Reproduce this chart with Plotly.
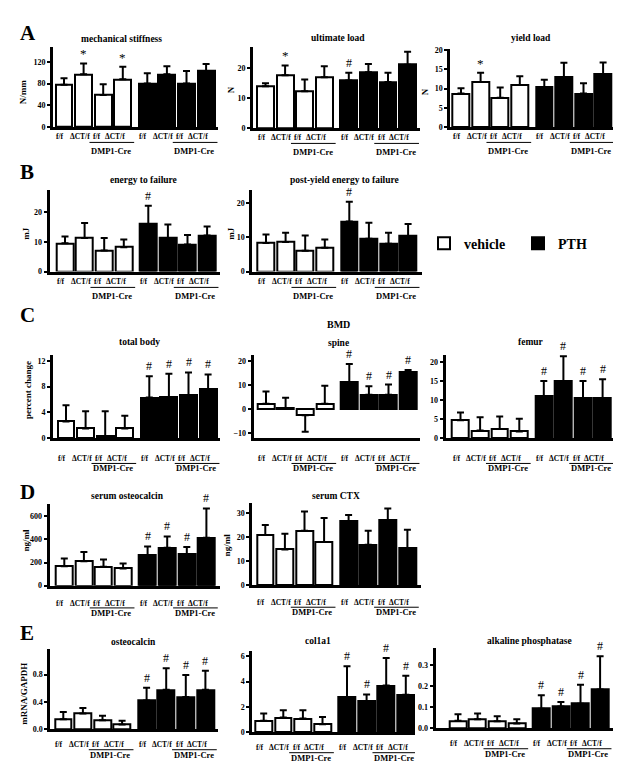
import plotly.graph_objects as go

W, H = 621, 768

# ---------------- data ----------------
group_labels = ["f/f", "ΔCT/f", "f/f", "ΔCT/f"]

stiff_veh = [78, 97, 59, 88];        stiff_veh_sd = [12, 20, 20, 23]
stiff_pth = [80, 97, 80, 103];       stiff_pth_sd = [19, 15, 23, 13]
stiff_sig_veh = ["", "*", "", "*"];  stiff_sig_pth = ["", "", "", ""]

ult_veh = [13.9, 17.5, 12.2, 16.9];  ult_veh_sd = [1.0, 3.3, 3.9, 3.6]
ult_pth = [15.8, 18.5, 15.3, 21.0];  ult_pth_sd = [2.6, 2.8, 3.1, 4.3]
ult_sig_veh = ["", "*", "", ""];     ult_sig_pth = ["#", "", "", ""]

yld_veh = [8.7, 11.7, 7.6, 10.9];    yld_veh_sd = [1.4, 2.4, 2.7, 2.3]
yld_pth = [10.4, 13.0, 8.7, 13.7];   yld_pth_sd = [1.9, 3.7, 2.7, 3.1]
yld_sig_veh = ["", "*", "", ""];     yld_sig_pth = ["", "", "", ""]

en_veh = [9.5, 11.3, 7.1, 8.2];      en_veh_sd = [2.3, 5.0, 4.2, 2.6]
en_pth = [16.0, 11.2, 9.1, 12.1];    en_pth_sd = [6.1, 4.6, 3.2, 3.1]
en_sig_veh = ["", "", "", ""];       en_sig_pth = ["#", "", "", ""]

pye_veh = [8.4, 8.7, 6.1, 7.0];      pye_veh_sd = [2.5, 2.7, 4.5, 2.4]
pye_pth = [14.7, 9.6, 8.2, 10.4];    pye_pth_sd = [5.8, 4.7, 3.2, 3.6]
pye_sig_veh = ["", "", "", ""];      pye_sig_pth = ["#", "", "", ""]

tb_veh = [2.6, 1.5, 0.3, 1.5];       tb_veh_sd = [2.5, 2.7, 3.9, 2.0]
tb_pth = [6.3, 6.4, 6.7, 7.6];       tb_pth_sd = [3.3, 3.6, 3.5, 2.3]
tb_sig_veh = ["", "", "", ""];       tb_sig_pth = ["#", "#", "#", "#"]

sp_veh = [2.3, 0.3, -2.5, 2.3];      sp_veh_sd = [5.1, 4.5, 6.9, 7.5]
sp_pth = [11.3, 6.0, 6.0, 15.4];     sp_pth_sd = [7.6, 3.6, 4.3, 1.0]
sp_sig_veh = ["", "", "", ""];       sp_sig_pth = ["#", "#", "#", "#"]

fe_veh = [4.75, 2.0, 2.4, 1.75];     fe_veh_sd = [2.0, 3.5, 3.3, 3.4]
fe_pth = [11.1, 15.1, 10.5, 10.5];   fe_pth_sd = [4.0, 6.5, 4.6, 5.0]
fe_sig_veh = ["", "", "", ""];       fe_sig_pth = ["#", "#", "#", "#"]

ocs_veh = [169, 212, 163, 149];      ocs_veh_sd = [66, 80, 63, 43]
ocs_pth = [263, 329, 269, 415];      ocs_pth_sd = [77, 97, 65, 254]
ocs_sig_veh = ["", "", "", ""];      ocs_sig_pth = ["#", "#", "#", "#"]

ctx_veh = [20.9, 14.8, 22.7, 17.9];  ctx_veh_sd = [4.2, 6.6, 8.0, 10.1]
ctx_pth = [26.6, 16.8, 27.1, 15.2];  ctx_pth_sd = [2.6, 5.9, 4.8, 7.9]
ctx_sig_veh = ["", "", "", ""];      ctx_sig_pth = ["", "", "", ""]

ocm_veh = [0.149, 0.231, 0.135, 0.072]; ocm_veh_sd = [0.107, 0.082, 0.063, 0.054]
ocm_pth = [0.424, 0.578, 0.472, 0.578]; ocm_pth_sd = [0.183, 0.314, 0.323, 0.279]
ocm_sig_veh = ["", "", "", ""];         ocm_sig_pth = ["#", "#", "#", "#"]

col_veh = [0.91, 1.17, 1.09, 0.65];  col_veh_sd = [0.57, 0.57, 0.65, 0.57]
col_pth = [2.78, 2.47, 3.68, 2.96];  col_pth_sd = [2.41, 0.51, 2.16, 1.5]
col_sig_veh = ["", "", "", ""];      col_sig_pth = ["#", "#", "#", "#"]

alp_veh = [0.036, 0.043, 0.034, 0.023]; alp_veh_sd = [0.031, 0.027, 0.023, 0.020]
alp_pth = [0.093, 0.104, 0.117, 0.184]; alp_pth_sd = [0.063, 0.021, 0.089, 0.156]
alp_sig_veh = ["", "", "", ""];         alp_sig_pth = ["#", "#", "#", "#"]

# ---------------- layout config ----------------
SERIF = "Liberation Serif"
S = 19.6  # px per category unit
POS_VEH = [0, 1, 2, 3]
POS_PTH = [4.25, 5.25, 6.25, 7.25]
LABEL_SHIFT = [-0.2, -0.2, -0.32, -0.42]

ROW_OFF = {"A": (10, 15.5, 24.5), "B": (10, 16, 24.5), "C": (20.5, 25.5, 30),
           "D": (17.6, 22.5, 27.6), "E": (15, 20.5, 25.5)}

panels = [
    dict(row="A", title="mechanical stiffness", tpos=(113, 28), ytitle="N/mm", ypos=(15, 82),
         box=(45, 56, 210, 36, 117.3), yr=[0, 148], ticks=[0, 40, 80, 120], fmt="",
         d=(stiff_veh, stiff_veh_sd, stiff_pth, stiff_pth_sd, stiff_sig_veh, stiff_sig_pth)),
    dict(row="A", title="ultimate load", tpos=(330, 27), ytitle="N", ypos=(223, 80),
         box=(245, 257.5, 412, 36.7, 118.3), yr=[0, 26.8], ticks=[0, 10, 20], fmt="",
         d=(ult_veh, ult_veh_sd, ult_pth, ult_pth_sd, ult_sig_veh, ult_sig_pth)),
    dict(row="A", title="yield load", tpos=(523, 27), ytitle="N", ypos=(417, 82),
         box=(442.3, 453, 609, 38.3, 117.3), yr=[0, 20.3], ticks=[0, 5, 10, 15, 20], fmt="",
         d=(yld_veh, yld_veh_sd, yld_pth, yld_pth_sd, yld_sig_veh, yld_sig_pth)),
    dict(row="B", title="energy to failure", tpos=(135, 171), ytitle="mJ", ypos=(18, 225),
         box=(41.7, 57, 212, 180.7, 263.3), yr=[0, 27.5], ticks=[0, 10, 20], fmt="",
         d=(en_veh, en_veh_sd, en_pth, en_pth_sd, en_sig_veh, en_sig_pth)),
    dict(row="B", title="post-yield energy to failure", tpos=(336, 171), ytitle="mJ", ypos=(223, 225),
         box=(244.3, 258, 414, 180.7, 263.3), yr=[0, 24], ticks=[0, 10, 20], fmt="",
         d=(pye_veh, pye_veh_sd, pye_pth, pye_pth_sd, pye_sig_veh, pye_sig_pth)),
    dict(row="C", title="total body", tpos=(131, 334.5), ytitle="percent change", ypos=(20, 383),
         box=(45, 58, 212, 347.7, 431.7), yr=[0, 12.9], ticks=[0, 4, 8, 12], fmt="",
         d=(tb_veh, tb_veh_sd, tb_pth, tb_pth_sd, tb_sig_veh, tb_sig_pth)),
    dict(row="C", title="spine", tpos=(330, 335), ytitle="", ypos=None,
         box=(245.7, 258, 412, 347.7, 431.7), yr=[-12.1, 22.6], ticks=[-10, 0, 10, 20], fmt="",
         d=(sp_veh, sp_veh_sd, sp_pth, sp_pth_sd, sp_sig_veh, sp_sig_pth)),
    dict(row="C", title="femur", tpos=(523, 334.5), ytitle="", ypos=None,
         box=(437.7, 452.5, 608, 347.7, 431.7), yr=[0, 21.9], ticks=[0, 5, 10, 15, 20], fmt="",
         d=(fe_veh, fe_veh_sd, fe_pth, fe_pth_sd, fe_sig_veh, fe_sig_pth)),
    dict(row="D", title="serum osteocalcin", tpos=(119, 490), ytitle="ng/ml", ypos=(18, 535),
         box=(41.7, 56.3, 212, 498.3, 580.7), yr=[0, 706], ticks=[0, 200, 400, 600], fmt="",
         d=(ocs_veh, ocs_veh_sd, ocs_pth, ocs_pth_sd, ocs_sig_veh, ocs_sig_pth)),
    dict(row="D", title="serum CTX", tpos=(328, 490), ytitle="ng/ml", ypos=(219, 540),
         box=(244.3, 257.3, 413, 497.3, 580), yr=[0, 34.2], ticks=[0, 10, 20, 30], fmt="",
         d=(ctx_veh, ctx_veh_sd, ctx_pth, ctx_pth_sd, ctx_sig_veh, ctx_sig_pth)),
    dict(row="E", title="osteocalcin", tpos=(125, 637.7), ytitle="mRNA/GAPDH", ypos=(16, 690),
         box=(42.3, 55.3, 210, 645, 726), yr=[0, 1.17], ticks=[0, 0.4, 0.8], fmt=".1f",
         d=(ocm_veh, ocm_veh_sd, ocm_pth, ocm_pth_sd, ocm_sig_veh, ocm_sig_pth)),
    dict(row="E", title="col1a1", tpos=(310, 636.7), ytitle="", ypos=None,
         box=(244.3, 255.7, 407, 646.7, 729), yr=[0, 6.4], ticks=[0, 2, 4, 6], fmt="",
         d=(col_veh, col_veh_sd, col_pth, col_pth_sd, col_sig_veh, col_sig_pth)),
    dict(row="E", title="alkaline phosphatase", tpos=(521, 636.7), ytitle="", ypos=None,
         box=(427.7, 450, 607, 644, 725), yr=[0, 0.378], ticks=[0, 0.1, 0.2, 0.3], fmt=".1f",
         d=(alp_veh, alp_veh_sd, alp_pth, alp_pth_sd, alp_sig_veh, alp_sig_pth)),
]

letters = [("A", 20, 22), ("B", 19, 163), ("C", 19, 307), ("D", 19, 486), ("E", 19, 629)]


def px(xp):
    return xp / W


def py(yp):
    return 1 - yp / H


def err_arrays(vals, sds):
    up = [s if v >= 0 else 0 for v, s in zip(vals, sds)]
    dn = [0 if v >= 0 else s for v, s in zip(vals, sds)]
    return up, dn


fig = go.Figure()
annotations = []
shapes = []
layout = {}

for i, p in enumerate(panels):
    n = "" if i == 0 else str(i + 1)
    xa, ya = "x" + n, "y" + n
    left, first, right, top, bottom = p["box"]
    veh, veh_sd, pth, pth_sd, sig_v, sig_p = p["d"]

    for vals, sds, pos, fill, name in [(veh, veh_sd, POS_VEH, "white", "vehicle"),
                                       (pth, pth_sd, POS_PTH, "black", "PTH")]:
        up, dn = err_arrays(vals, sds)
        fig.add_trace(go.Bar(
            x=pos, y=vals, width=0.86, name=name, legendgroup=name,
            showlegend=(i == 0), xaxis=xa, yaxis=ya,
            marker=dict(color=fill, line=dict(color="black", width=2)),
            error_y=dict(type="data", array=up, arrayminus=dn, symmetric=False,
                         color="black", thickness=2, width=3.5),
            hoverinfo="skip"))

    layout["xaxis" + n] = dict(
        domain=[px(left), px(right)],
        range=[-(first - left) / S, (right - first) / S],
        anchor=ya, showline=True, linewidth=3, linecolor="black",
        showticklabels=False, ticks="", showgrid=False, zeroline=False, fixedrange=True)
    layout["yaxis" + n] = dict(
        domain=[py(bottom), py(top)], range=p["yr"], anchor=xa,
        showline=True, linewidth=3, linecolor="black",
        ticks="outside", ticklen=3, tickwidth=2, tickcolor="black",
        tickvals=p["ticks"], tickformat=p["fmt"],
        tickfont=dict(family=SERIF, size=8, color="black", weight="bold"),
        showgrid=False, zeroline=False, fixedrange=True)

    # title
    annotations.append(dict(text=p["title"], x=px(p["tpos"][0]), y=py(p["tpos"][1]),
                            xref="paper", yref="paper", showarrow=False,
                            xanchor="center", yanchor="middle",
                            font=dict(family=SERIF, size=9.5, color="black", weight="bold")))
    if p["ytitle"]:
        annotations.append(dict(text=p["ytitle"], x=px(p["ypos"][0]), y=py(p["ypos"][1]),
                                xref="paper", yref="paper", showarrow=False, textangle=-90,
                                xanchor="center", yanchor="middle",
                                font=dict(family=SERIF, size=9, color="black", weight="bold")))

    # category labels
    lab_dy, line_dy, dmp_dy = ROW_OFF[p["row"]]
    for pos in (POS_VEH, POS_PTH):
        for k, (xv, lab) in enumerate(zip(pos, group_labels)):
            annotations.append(dict(text=lab, x=xv + LABEL_SHIFT[k], y=py(bottom + lab_dy),
                                    xref=xa, yref="paper", showarrow=False,
                                    xanchor="center", yanchor="middle",
                                    font=dict(family=SERIF, size=7.5, color="black", weight="bold")))
        annotations.append(dict(text="DMP1-Cre", x=(pos[2] + pos[3]) / 2 - 0.1,
                                y=py(bottom + dmp_dy), xref=xa, yref="paper", showarrow=False,
                                xanchor="center", yanchor="middle",
                                font=dict(family=SERIF, size=8.5, color="black", weight="bold")))
        shapes.append(dict(type="line", xref=xa, yref="paper",
                           x0=pos[2] - 0.7, x1=pos[3] + 0.58,
                           y0=py(bottom + line_dy), y1=py(bottom + line_dy),
                           line=dict(color="black", width=1)))

    # significance marks
    for vals, sds, pos, sig in [(veh, veh_sd, POS_VEH, sig_v), (pth, pth_sd, POS_PTH, sig_p)]:
        for xv, v, s, mk in zip(pos, vals, sds, sig):
            if mk:
                annotations.append(dict(text=mk, x=xv, y=v + s, xref=xa, yref=ya,
                                        showarrow=False, xanchor="center", yanchor="bottom",
                                        yshift=0 if mk == "*" else 1,
                                        font=dict(family=SERIF, size=13 if mk == "*" else 12,
                                                  color="black")))

for t, xl, yl in letters:
    annotations.append(dict(text=t, x=px(xl), y=py(yl), xref="paper", yref="paper",
                            showarrow=False, xanchor="center", yanchor="middle",
                            font=dict(family=SERIF, size=21, color="black", weight="bold")))

annotations.append(dict(text="BMD", x=px(330), y=py(316.7), xref="paper", yref="paper",
                        showarrow=False, xanchor="center", yanchor="middle",
                        font=dict(family=SERIF, size=10, color="black", weight="bold")))

fig.update_layout(
    width=W, height=H, margin=dict(l=0, r=0, t=0, b=0),
    paper_bgcolor="white", plot_bgcolor="white",
    barmode="overlay", bargap=0,
    annotations=annotations, shapes=shapes,
    legend=dict(orientation="h", x=px(416), y=py(235), xanchor="left", yanchor="middle",
                font=dict(family=SERIF, size=14, color="black", weight="bold"),
                entrywidth=49, entrywidthmode="pixels", bgcolor="rgba(0,0,0,0)",
                itemclick=False, itemdoubleclick=False),
    **layout)

fig.write_html("out.html")
